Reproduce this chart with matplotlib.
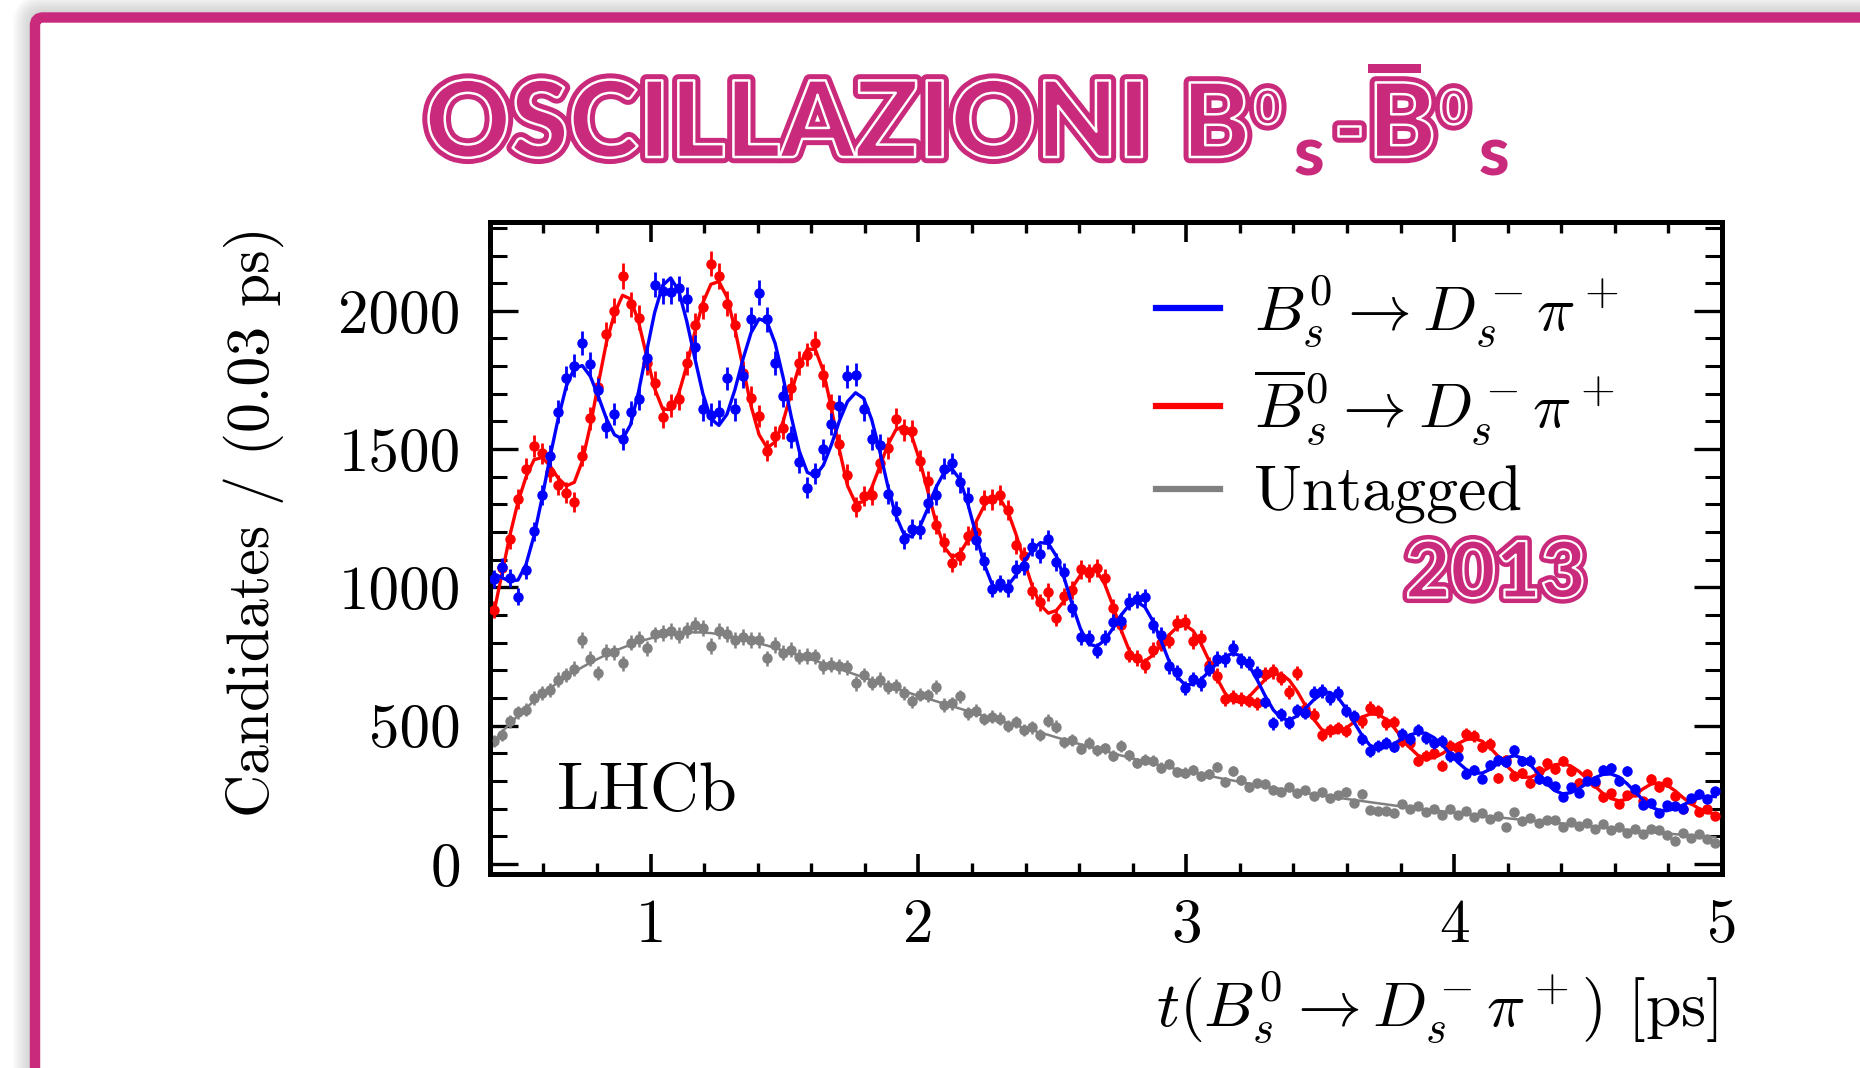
import numpy as np
import matplotlib
matplotlib.use("Agg")
import matplotlib.pyplot as plt
import matplotlib.patheffects as pe
from matplotlib.patches import FancyBboxPatch, Rectangle
from matplotlib.lines import Line2D
from matplotlib.ticker import MultipleLocator

plt.rcParams['font.family'] = 'serif'
plt.rcParams['font.serif'] = ['cmr10', 'DejaVu Serif']
plt.rcParams['mathtext.fontset'] = 'cm'
plt.rcParams['axes.formatter.use_mathtext'] = True

# decay time histogram: 0.03 ps bins, first bin centre at 0.415 ps
t_first = 0.415
bin_width = 0.03

# fitted curves, read at every bin centre
blue_fit = [1050, 1035, 1023, 1027, 1084, 1188, 1325, 1475, 1611, 1727,
            1792, 1802, 1763, 1690, 1610, 1552, 1536, 1588, 1708, 1853,
            1994, 2092, 2119, 2072, 1962, 1829, 1701, 1610, 1586, 1626,
            1716, 1826, 1921, 1971, 1959, 1882, 1758, 1617, 1493, 1416,
            1403, 1442, 1516, 1603, 1672, 1704, 1684, 1608, 1495, 1369,
            1261, 1194, 1183, 1219, 1286, 1361, 1414, 1429, 1390, 1300,
            1191, 1085, 1011, 990, 1008, 1046, 1094, 1136, 1162, 1159,
            1113, 1031, 935, 850, 796, 787, 809, 851, 898, 934,
            948, 930, 879, 809, 735, 678, 648, 650, 668, 696,
            727, 751, 762, 752, 717, 665, 607, 557, 526, 521,
            536, 563, 593, 615, 621, 604, 564, 515, 467, 430,
            417, 422, 435, 452, 467, 475, 473, 457, 431, 399,
            367, 342, 329, 329, 343, 365, 384, 392, 383, 359,
            326, 292, 266, 254, 258, 272, 292, 312, 324, 326,
            315, 291, 262, 232, 207, 194, 193, 201, 214, 228,
            240, 245, 244]

red_fit = [910, 1050, 1190, 1310, 1400, 1462, 1470, 1439, 1395, 1367,
           1380, 1457, 1586, 1738, 1886, 1990, 2056, 2043, 1960, 1837,
           1719, 1645, 1643, 1701, 1802, 1923, 2029, 2096, 2106, 2050,
           1933, 1795, 1656, 1552, 1505, 1526, 1601, 1705, 1802, 1862,
           1860, 1782, 1648, 1497, 1368, 1305, 1310, 1360, 1436, 1514,
           1569, 1584, 1547, 1458, 1348, 1237, 1148, 1110, 1124, 1172,
           1237, 1295, 1328, 1320, 1271, 1190, 1094, 1004, 937, 907,
           917, 953, 1001, 1045, 1069, 1061, 1013, 937, 850, 777,
           735, 733, 755, 790, 828, 856, 864, 844, 797, 735,
           671, 617, 588, 587, 606, 637, 668, 687, 687, 664,
           623, 572, 525, 487, 473, 476, 491, 512, 531, 542,
           542, 524, 494, 456, 421, 393, 382, 385, 399, 418,
           436, 450, 454, 444, 420, 389, 356, 329, 314, 314,
           326, 344, 359, 363, 355, 336, 310, 282, 256, 237,
           229, 234, 251, 272, 289, 294, 285, 265, 240, 218,
           200, 188, 180]

gray_fit = [445, 478, 508, 537, 564, 590, 614, 636, 657, 677,
            695, 712, 728, 743, 757, 770, 782, 793, 803, 812,
            820, 826, 831, 835, 837, 838, 837, 835, 831, 826,
            820, 813, 806, 798, 790, 781, 772, 763, 754, 744,
            735, 725, 715, 705, 695, 685, 675, 665, 655, 645,
            635, 626, 616, 607, 598, 589, 580, 571, 562, 553,
            544, 536, 527, 518, 510, 501, 492, 484, 475, 467,
            458, 450, 441, 433, 425, 417, 409, 401, 393, 386,
            378, 371, 364, 357, 350, 343, 337, 331, 325, 319,
            313, 307, 302, 296, 291, 286, 281, 276, 271, 266,
            262, 257, 253, 248, 244, 240, 236, 232, 228, 224,
            220, 216, 212, 208, 205, 201, 198, 194, 191, 188,
            184, 181, 178, 175, 172, 169, 166, 163, 160, 157,
            155, 152, 149, 147, 144, 142, 139, 136, 133, 130,
            127, 124, 121, 118, 116, 113, 111, 108, 106, 104,
            101, 99, 97]

# offsets of the measured points from the fitted curve
blue_res = [-20, 40, 10, -60, -20, 15, 10, 0, 25, 30,
            10, 80, 45, 25, -30, 75, 0, 45, -25, -25,
            100, -20, -50, 10, 80, 40, -57, 15, 50, 130,
            -72, -62, 50, 95, 10, -70, -66, -74, -40, -55,
            10, 57, 74, 52, 92, 65, -40, -73, 20, -30,
            15, -20, 30, -10, 20, -25, 15, 20, -10, 25,
            -20, 10, -15, 25, -10, 20, -15, 10, -40, 15,
            -20, 25, -10, -30, 20, -15, 10, 25, -20, 15,
            10, 35, -15, 20, -20, 15, -10, 20, -15, 10,
            15, -10, 20, -15, 10, 25, -20, -48, 15, -10,
            20, -15, 25, 10, -20, 15, -10, 20, -15, -22,
            10, 15, -10, 20, -15, 10, -18, -20, 15, -10,
            20, -15, 10, -20, 15, 10, -15, 20, -10, 15,
            -20, 10, 15, -10, 20, -15, 10, -10, 15, 20,
            -15, 45, 10, -20, 15, -10, 20, 10, -15, 10,
            15, -10, 20]

red_res = [10, 20, -15, 10, 30, 50, 15, -20, -25, -24,
           -70, 20, 25, -15, 30, 10, 70, -20, 15, -25,
           20, -30, 15, -20, 10, 25, -15, 75, 20, -25,
           15, -20, 30, 67, -10, 20, -25, 15, 10, -20,
           25, -15, 10, 20, 40, -13, 20, -25, 15, -10,
           40, -15, 20, 0, 37, -10, 15, -20, -10, 15,
           -36, 20, -10, 15, 10, -36, 20, -15, 10, 77,
           -28, 15, -10, 20, -15, 10, 20, -10, 15, -20,
           10, -15, 20, 10, -20, 15, 10, -38, 20, -15,
           10, -20, 15, 10, -15, -56, 20, 10, -15, -43,
           67, -10, 15, -20, 10, 15, -10, 20, -15, 24,
           10, -15, 20, -10, 15, -20, 10, 15, -43, 10,
           -15, 20, 10, -20, 15, -77, 20, -10, 15, -20,
           10, 20, -15, 10, -20, -42, 15, 10, -15, 20,
           -10, 15, 10, -43, 20, -15, 10, -20, -40, 15,
           -10, 10, -5]

gray_res = [0, -10, 8, 12, -6, 10, 5, -8, 10, 6,
            12, 97, 15, -53, 10, -5, -56, 8, 12, -32,
            10, 8, 12, -6, 10, 26, 15, -47, 11, 6,
            -10, 8, 5, 12, -46, 10, -8, 12, -5, 8,
            16, -10, 6, 10, 16, -32, 8, -10, 12, -6,
            10, -8, -28, 6, 12, 50, -5, 10, 44, -8,
            10, -12, 6, 8, -10, 12, -6, 10, -8, 52,
            39, -10, 8, -16, 12, -6, 10, -10, 34, 8,
            -12, 6, 10, -8, 12, -9, -6, 10, -8, 6,
            39, -10, 36, 8, -12, 6, 10, -8, -10, 12,
            -6, 10, -8, 12, -6, 8, 25, -10, 26, -28,
            -28, -25, -28, 10, -6, 8, -10, 6, -12, 10,
            -8, 12, -6, 10, -8, 6, -32, 26, -6, 10,
            -8, 6, 10, -12, 8, -6, 10, -8, 12, -6,
            8, -10, 6, -8, 10, 12, -6, -25, 8, -10,
            6, -8, -21]

labels = [r'$B_s^0 \rightarrow D_s^- \pi^+$',
          r'$\overline{B}_s^0 \rightarrow D_s^- \pi^+$',
          'Untagged']
x_ticks = [1, 2, 3, 4, 5]
y_ticks = [0, 500, 1000, 1500, 2000]

pink = '#c92a7c'

fig = plt.figure(figsize=(18.6, 10.68), dpi=100)

# slide background: shadow + pink frame, in pixel coordinates
bg = fig.add_axes([0, 0, 1, 1])
bg.set_xlim(0, 1860)
bg.set_ylim(1068, 0)
bg.axis('off')
for s in range(2, 24, 2):
    bg.add_patch(FancyBboxPatch((35 - s, 17 - s), 3000, 3000,
                                boxstyle='round,pad=0,rounding_size=%d' % (8 + s),
                                facecolor='0.45', edgecolor='none', alpha=0.035))
bg.add_patch(FancyBboxPatch((35, 17.5), 3000, 3000,
                            boxstyle='round,pad=0,rounding_size=8',
                            facecolor='white', edgecolor=pink, linewidth=7.5))

# title in outlined display lettering
outline = [pe.Stroke(linewidth=9, foreground=pink),
           pe.Stroke(linewidth=1.8, foreground='white')]
tkw = dict(color=pink, family='Lato', weight='black', path_effects=outline,
           transform=bg.transData)
skw = dict(color=pink, family='Lato', weight='black', transform=bg.transData)
bg.text(425, 157, 'OSCILLAZIONI', fontsize=76, ha='left', va='baseline', **tkw)
bg.text(1182, 157, 'B', fontsize=74, ha='left', va='baseline', **tkw)
bg.text(1254, 88, '0', fontsize=34, ha='left', va='top', **tkw)
bg.text(1294, 175, 's', fontsize=50, ha='left', va='baseline', **skw)
bg.text(1333, 157, '-', fontsize=62, ha='left', va='baseline', **tkw)
bg.text(1368, 157, 'B', fontsize=74, ha='left', va='baseline', **tkw)
bg.add_patch(Rectangle((1368, 64), 53, 9, facecolor=pink, edgecolor='none'))
bg.text(1440, 88, '0', fontsize=34, ha='left', va='top', **tkw)
bg.text(1479, 175, 's', fontsize=50, ha='left', va='baseline', **skw)

# main plot
ax = fig.add_axes([0.2634, 0.1816, 0.6624, 0.6105])

t_blue = t_first + bin_width * np.arange(len(blue_fit))
t_red = t_first + bin_width * np.arange(len(red_fit))
t_gray = t_first + bin_width * np.arange(len(gray_fit))
blue_pts = np.array(blue_fit) + np.array(blue_res)
red_pts = np.array(red_fit) + np.array(red_res)
gray_pts = np.array(gray_fit) + np.array(gray_res)

ax.errorbar(t_gray, gray_pts, yerr=np.sqrt(gray_pts), fmt='o', color='#808080',
            markersize=6.5, elinewidth=1.8, capsize=0, zorder=2)
ax.plot(t_gray, gray_fit, color='#808080', lw=1.8, zorder=3)
ax.errorbar(t_red, red_pts, yerr=np.sqrt(red_pts), fmt='o', color='red',
            markersize=6.5, elinewidth=2, capsize=0, zorder=4)
ax.plot(t_red, red_fit, color='red', lw=2.4, zorder=5)
ax.errorbar(t_blue, blue_pts, yerr=np.sqrt(blue_pts), fmt='o', color='blue',
            markersize=6.5, elinewidth=2, capsize=0, zorder=6)
ax.plot(t_blue, blue_fit, color='blue', lw=2.4, zorder=7)

ax.set_xlim(0.4, 5.0)
ax.set_ylim(-36, 2321)
ax.set_xticks(x_ticks)
ax.set_xticklabels([str(v) for v in x_ticks])
ax.set_yticks(y_ticks)
ax.set_yticklabels([str(v) for v in y_ticks])
ax.xaxis.set_minor_locator(MultipleLocator(0.2))
ax.yaxis.set_minor_locator(MultipleLocator(100))
ax.tick_params(which='both', direction='in', top=True, right=True, labelsize=44)
ax.tick_params(axis='x', which='major', length=14.5, width=2.6, pad=18)
ax.tick_params(axis='x', which='minor', length=8, width=2.4)
ax.tick_params(axis='y', which='major', length=20, width=2.4, pad=21)
ax.tick_params(axis='y', which='minor', length=12, width=2.2)
for sp in ax.spines.values():
    sp.set_linewidth(3.6)

ax.set_xlabel(r'$t(B_s^0 \rightarrow D_s^- \pi^+)$ [ps]', fontsize=46,
              ha='right', va='center')
ax.xaxis.set_label_coords(0.997, -0.205)
ax.set_ylabel('Candidates / (0.03 ps)', fontsize=43, va='center')
ax.yaxis.set_label_coords(-0.192, 0.54)

ax.text(0.054, 0.098, 'LHCb', transform=ax.transAxes, fontsize=49,
        ha='left', va='baseline')

handles = [Line2D([], [], color='blue', lw=4.5),
           Line2D([], [], color='red', lw=4.5),
           Line2D([], [], color='#808080', lw=4.5)]
ax.legend(handles, labels, loc='upper left', bbox_to_anchor=(0.541, 0.922),
          frameon=False, fontsize=46, handlelength=1.0, handletextpad=0.52,
          labelspacing=0.28, borderpad=0, borderaxespad=0)

fig.text(0.804, 0.4616, '2013', fontsize=56, ha='center', va='center',
         color=pink, family='Lato', weight='black',
         path_effects=[pe.Stroke(linewidth=8, foreground=pink),
                       pe.Stroke(linewidth=1.6, foreground='white')])

fig.savefig('out.png', dpi=100)
